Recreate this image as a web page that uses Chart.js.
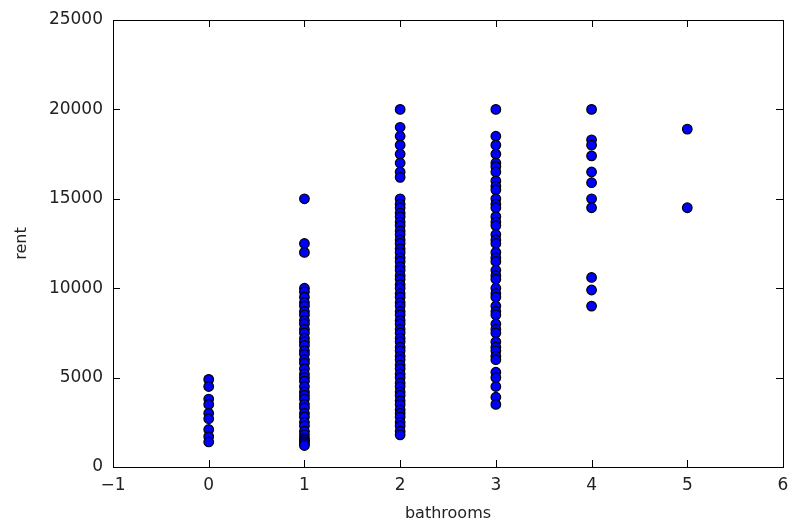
<!DOCTYPE html>
<html>
<head>
<meta charset="utf-8">
<script src="https://cdn.jsdelivr.net/npm/chart.js@4/dist/chart.umd.min.js"></script>
<style>
  html, body { margin: 0; padding: 0; background: #fff; }
  #wrap { width: 793px; height: 527px; }
</style>
</head>
<body>
<div id="wrap"><canvas id="chart" width="793" height="527"></canvas></div>
<script>
// bathrooms on x, rent on y
const bathrooms = [0, 1, 2, 3, 4, 5];
const rent0 = [4900, 4500, 3800, 3500, 3000, 2700, 2100, 1700, 1400];
const rent1 = [15000, 12500, 12000, 10000, 9800, 9500, 9200, 9000, 8700, 8500, 8200, 8000,
  7700, 7500, 7200, 7000, 6800, 6500, 6300, 6000, 5800, 5500, 5200, 5000, 4800, 4500,
  4200, 4000, 3800, 3500, 3300, 3000, 2800, 2500, 2300, 2000, 1800, 1600, 1500, 1400, 1300, 1200];
const rent2 = [20000, 19000, 18500, 18000, 17500, 17000, 16500, 16200, 15000, 14700, 14500,
  14200, 14000, 13700, 13500, 13200, 13000, 12700, 12500, 12200, 12000, 11700, 11500, 11200,
  11000, 10700, 10500, 10200, 10000, 9700, 9500, 9200, 9000, 8700, 8500, 8200, 8000, 7700,
  7500, 7200, 7000, 6700, 6500, 6200, 6000, 5700, 5500, 5200, 5000, 4700, 4500, 4200, 4000,
  3700, 3500, 3200, 3000, 2800, 2500, 2300, 2000, 1800];
const rent3 = [20000, 18500, 18000, 17500, 17000, 16800, 16500, 16000, 15700, 15500, 15000,
  14700, 14500, 14000, 13700, 13500, 13000, 12700, 12500, 12000, 11700, 11500, 11000, 10700,
  10500, 10000, 9700, 9500, 9000, 8700, 8500, 8000, 7700, 7500, 7000, 6700, 6500, 6200, 6000,
  5300, 5000, 4500, 3900, 3500];
const rent4 = [20000, 18300, 18000, 17400, 16500, 15900, 15000, 14500, 10600, 9900, 9000];
const rent5 = [18900, 14500];

const rentByBathrooms = [rent0, rent1, rent2, rent3, rent4, rent5];
const points = [];
bathrooms.forEach((b, i) => {
  rentByBathrooms[i].forEach(r => points.push({ x: b, y: r }));
});

const FONT = 'DejaVu Sans';

// matplotlib classic: frame + inward ticks on all four sides
const frameTicks = {
  id: 'frameTicks',
  afterDraw(chart) {
    const { ctx, chartArea: a, scales } = chart;
    ctx.save();
    ctx.strokeStyle = '#000';
    ctx.lineWidth = 1;
    ctx.beginPath();
    scales.x.ticks.forEach(t => {
      const px = Math.round(scales.x.getPixelForValue(t.value)) + 0.5;
      ctx.moveTo(px, a.bottom); ctx.lineTo(px, a.bottom - 7);
      ctx.moveTo(px, a.top); ctx.lineTo(px, a.top + 7);
    });
    scales.y.ticks.forEach(t => {
      const py = Math.round(scales.y.getPixelForValue(t.value)) + 0.5;
      ctx.moveTo(a.left, py); ctx.lineTo(a.left + 7, py);
      ctx.moveTo(a.right, py); ctx.lineTo(a.right - 7, py);
    });
    ctx.stroke();
    ctx.strokeRect(Math.round(a.left) + 0.5, Math.round(a.top) + 0.5,
      Math.round(a.right - a.left), Math.round(a.bottom - a.top));
    ctx.restore();
  }
};

new Chart(document.getElementById('chart'), {
  type: 'scatter',
  data: {
    datasets: [{
      label: 'rent',
      data: points,
      backgroundColor: '#0000ff',
      borderColor: '#000000',
      borderWidth: 1.2,
      pointRadius: 4.8,
      pointHoverRadius: 4.8
    }]
  },
  options: {
    responsive: false,
    animation: false,
    layout: { padding: { top: 20, right: 10, left: 0, bottom: 0 } },
    plugins: { legend: { display: false }, tooltip: { enabled: false } },
    scales: {
      x: {
        type: 'linear',
        min: -1,
        max: 6,
        grid: { display: false, drawTicks: false },
        border: { display: false },
        ticks: {
          stepSize: 1,
          padding: 8,
          color: '#222',
          font: { family: FONT, size: 17 },
          callback: v => String(v).replace('-', '\u2212')
        },
        title: {
          display: true,
          text: 'bathrooms',
          color: '#222',
          font: { family: FONT, size: 16 },
          padding: { top: 0, bottom: 4 }
        },
        afterFit(scale) {
          scale.height = 60;
          scale.paddingRight = 0;
          scale.paddingLeft = 0;
        }
      },
      y: {
        type: 'linear',
        min: 0,
        max: 25000,
        grid: { display: false, drawTicks: false },
        border: { display: false },
        ticks: {
          stepSize: 5000,
          padding: 10,
          color: '#222',
          font: { family: FONT, size: 17 },
          callback: v => String(v)
        },
        title: {
          display: true,
          text: 'rent',
          color: '#222',
          font: { family: FONT, size: 16 },
          padding: { top: 12, bottom: 6 }
        },
        afterFit(scale) {
          scale.width = 113;
          scale.paddingTop = 0;
          scale.paddingBottom = 0;
        }
      }
    }
  },
  plugins: [frameTicks]
});
</script>
</body>
</html>
